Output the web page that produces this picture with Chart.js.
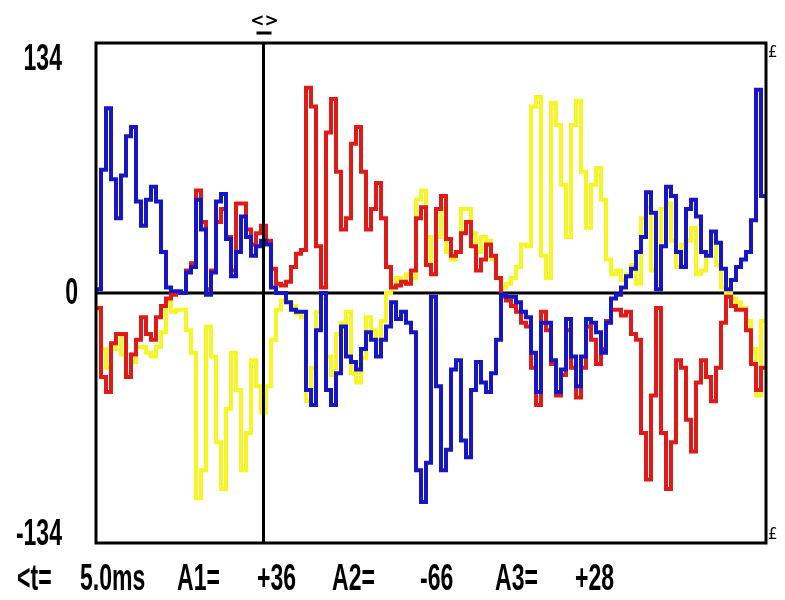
<!DOCTYPE html>
<html>
<head>
<meta charset="utf-8">
<script src="https://cdn.jsdelivr.net/npm/chart.js@4.4.0/dist/chart.umd.min.js"></script>
<style>
  html, body { margin: 0; padding: 0; background: #fff; }
  #wrap { width: 785px; height: 600px; }
</style>
</head>
<body>
<div id="wrap"><canvas id="scope" width="785" height="600"></canvas></div>
<script>
// one 20 ms window, cursor at 5.0 ms
var spanMs = 20;
var cursorMs = 5.0;
var yTicks = [134, 0, -134];
var yTickLabels = ['134', '0', '-134'];
var readNames = ['<t=', 'A1=', 'A2=', 'A3='];
var readValues = ['5.0ms', '+36', '-66', '+28'];

// sampled traces (A1 red, A2 yellow, A3 blue)
var a1Red = [
  -8, -45, -53, -27, -22, -22, -45, -33, -25, -13,
  -22, -25, -13, -7, -3, -1, 0, 0, 12, 16,
  55, 38, 2, 12, 38, 45, 30, 12, 48, 48,
  34, 26, 32, 36, 28, 13, 5, 4, 6, 14,
  21, 23, 110, 100, 25, 3, 86, 104, 65, 34,
  40, 80, 89, 65, 34, 45, 59, 40, 14, 3,
  4, 6, 5, 12, 40, 46, 15, 10, 45, 52,
  29, 20, 22, 32, 38, 25, 12, 18, 26, 20,
  8, -2, -4, -7, -10, -16, -18, -40, -60, -10,
  -20, -38, -55, -44, -20, -40, -56, -40, -18, -25,
  -38, -30, -15, -9, -9, -12, -10, -22, -25, -75,
  -100, -55, -8, -75, -105, -80, -36, -40, -68, -85,
  -48, -36, -45, -58, -40, -16, -2, -7, -9, -9,
  -20, -38, -52, -40
];
var a2Yellow = [
  -9, -30, -40, -30, -22, -33, -44, -37, -29, -29,
  -32, -34, -29, -21, -5, -10, -9, -9, -20, -32,
  -110, -95, -18, -34, -80, -105, -62, -32, -52, -95,
  -75, -36, -50, -64, -50, -25, -9, -4, -5, -7,
  -11, -13, -58, -40, -10, -3, -34, -44, -22, -16,
  -10, -43, -48, -35, -13, -20, -25, -15, 0, 3,
  8, 6, 10, 8, 50, 55, 30, 10, 30, 45,
  22, 18, 22, 45, 45, 32, 22, 30, 28, 18,
  8, 3, 5, 8, 14, 26, 25, 100, 105, 20,
  8, 102, 90, 58, 30, 90, 103, 65, 35, 58,
  67, 50, 18, 10, 12, 7, 10, 15, 5, 40,
  46, 12, 6, 45, 48, 28, 14, 26, 28, 35,
  10, 12, 22, 28, 15, 3, 0, -3, -5, -8,
  -15, -30, -55, -15
];
var a3Blue = [
  2, 66, 99, 61, 40, 63, 84, 89, 49, 36,
  50, 57, 49, 22, 3, 1, 1, 0, 11, 14,
  50, 34, -1, 11, 49, 53, 29, 9, 22, 41,
  30, 20, 25, 28, 26, 3, 0, 0, -5, -9,
  -10, -10, -52, -60, -20, 0, -52, -60, -43, -18,
  -34, -37, -41, -30, -21, -25, -34, -25, -18, -5,
  -14, -10, -16, -21, -95, -112, -91, -2, -50, -95,
  -84, -41, -36, -79, -88, -52, -37, -48, -53, -43,
  -25, -1, -2, -2, -5, -10, -13, -32, -53, -16,
  -16, -36, -53, -41, -14, -34, -50, -34, -14, -16,
  -21, -32, -16, -3, -1, 3, 9, 13, 22, 30,
  54, 43, 2, 25, 57, 52, 22, 14, 45, 50,
  41, 22, 20, 33, 27, 13, 2, 7, 14, 18,
  22, 39, 109, 52
];

var dt = spanMs / a1Red.length;
function toPoints(vals) {
    var pts = vals.map(function (v, i) { return { x: i * dt, y: v }; });
    pts.push({ x: spanMs, y: vals[vals.length - 1] });
    return pts;
}

var FONT = 'bold 36px "Liberation Sans", Arial, sans-serif';
function narrowText(ctx, txt, x, y, align) {
    ctx.save();
    ctx.translate(x, y);
    ctx.scale(0.64, 1);
    ctx.font = FONT;
    ctx.fillStyle = '#000';
    ctx.textAlign = align;
    ctx.textBaseline = 'alphabetic';
    ctx.fillText(txt, 0, 0);
    ctx.restore();
}

var scopeDecor = {
    id: 'scopeDecor',
    beforeDatasetsDraw: function (chart) {
        var ctx = chart.ctx, a = chart.chartArea;
        var y0 = chart.scales.y.getPixelForValue(0);
        ctx.save();
        ctx.strokeStyle = '#000'; ctx.lineWidth = 3;
        ctx.beginPath(); ctx.moveTo(a.left, y0); ctx.lineTo(a.right, y0); ctx.stroke();
        ctx.restore();
    },
    afterDatasetsDraw: function (chart) {
        var ctx = chart.ctx, a = chart.chartArea;
        var xs = chart.scales.x, ys = chart.scales.y;
        var cx = xs.getPixelForValue(cursorMs);
        ctx.save();
        ctx.strokeStyle = '#000'; ctx.lineWidth = 3;
        ctx.strokeRect(a.left, a.top, a.right - a.left, a.bottom - a.top);
        ctx.beginPath(); ctx.moveTo(cx, a.top); ctx.lineTo(cx, a.bottom); ctx.stroke();
        // cursor marker
        ctx.beginPath(); ctx.moveTo(cx - 7, a.top - 10); ctx.lineTo(cx + 8, a.top - 10); ctx.stroke();
        ctx.font = 'bold 17px "DejaVu Sans", sans-serif';
        ctx.fillStyle = '#000'; ctx.textAlign = 'center'; ctx.textBaseline = 'alphabetic';
        ctx.fillText('<>', cx + 1, a.top - 17);
        // small right-edge marks
        ctx.font = '15px "DejaVu Sans", sans-serif';
        ctx.textAlign = 'left';
        ctx.fillText('£', a.right + 2, a.top + 14);
        ctx.fillText('£', a.right + 2, a.bottom - 4);
        ctx.restore();

        // y labels
        yTicks.forEach(function (v, i) {
            var py = ys.getPixelForValue(v);
            if (v > 0) narrowText(ctx, yTickLabels[i], 62, py + 27, 'right');
            else if (v < 0) narrowText(ctx, yTickLabels[i], 62, py + 2, 'right');
            else narrowText(ctx, yTickLabels[i], 78, py + 11, 'right');
        });

        // readout line
        var lefts = [17, 80, 177, 257, 332, 420, 495, 575];
        var k = 0;
        for (var i = 0; i < readNames.length; i++) {
            narrowText(ctx, readNames[i], lefts[k++], 590, 'left');
            narrowText(ctx, readValues[i], lefts[k++], 590, 'left');
        }
    }
};

new Chart(document.getElementById('scope').getContext('2d'), {
    type: 'line',
    data: {
        datasets: [
            { label: 'A1', data: toPoints(a1Red), borderColor: '#e01a16', borderWidth: 4,
              stepped: true, pointRadius: 0, fill: false, order: 2 },
            { label: 'A2', data: toPoints(a2Yellow), borderColor: '#f8f622', borderWidth: 4,
              stepped: true, pointRadius: 0, fill: false, order: 3 },
            { label: 'A3', data: toPoints(a3Blue), borderColor: '#1616c4', borderWidth: 4,
              stepped: true, pointRadius: 0, fill: false, order: 1 }
        ]
    },
    options: {
        responsive: false,
        animation: false,
        events: [],
        layout: { padding: { left: 96, top: 43, right: 19, bottom: 57 } },
        plugins: { legend: { display: false }, tooltip: { enabled: false } },
        scales: {
            x: { type: 'linear', min: 0, max: spanMs, display: false },
            y: { min: -134, max: 134, display: false }
        }
    },
    plugins: [scopeDecor]
});
</script>
</body>
</html>
